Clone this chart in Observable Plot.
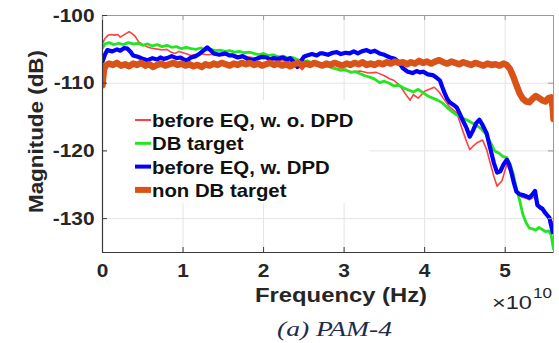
<!DOCTYPE html>
<html><head><meta charset="utf-8">
<script src="https://cdn.jsdelivr.net/npm/d3@7"></script>
<script src="https://cdn.jsdelivr.net/npm/@observablehq/plot@0.6"></script>
<style>body{margin:0;background:#fff} svg{display:block}</style>
</head><body><div id="chart"></div>
<script>
// Frequency in units of 1e10 Hz, magnitude in dB
const xTicks = [0, 1, 2, 3, 4, 5];
const yTicks = [-130, -120, -110, -100];
const xDomain = [0, 5.6];
const yDomain = [-135, -100];
const seriesNames = ["before EQ, w. o. DPD", "DB target", "before EQ, w. DPD", "non DB target"];

const redPts = [[0,-104.1],[0.03,-103.4],[0.07,-102.9],[0.11,-102.8],[0.15,-102.9],[0.19,-102.8],[0.22,-103.2],[0.26,-102.9],[0.3,-102.6],[0.33,-102.4],[0.36,-102.6],[0.4,-103.0],[0.45,-103.9],[0.5,-104.3],[0.55,-104.6],[0.6,-104.8],[0.65,-104.9],[0.7,-105.0],[0.75,-105.1],[0.8,-105.0],[0.85,-105.4],[0.9,-105.6],[0.95,-105.3],[1.0,-105.5],[1.05,-105.7],[1.1,-105.9],[1.2,-105.6],[1.3,-105.8],[1.4,-105.7],[1.5,-105.9],[1.6,-105.8],[1.7,-106.0],[1.8,-106.1],[1.9,-106.3],[2.0,-106.2],[2.1,-106.5],[2.2,-106.6],[2.3,-106.8],[2.38,-107.0],[2.44,-107.6],[2.48,-108.0],[2.52,-107.4],[2.58,-107.1],[2.64,-107.3],[2.7,-107.5],[2.8,-107.6],[2.9,-107.8],[3.0,-108.1],[3.1,-108.3],[3.2,-108.2],[3.3,-108.5],[3.4,-108.4],[3.5,-108.9],[3.56,-109.3],[3.62,-109.6],[3.68,-110.2],[3.73,-111.0],[3.78,-111.9],[3.82,-112.5],[3.86,-111.7],[3.92,-112.2],[3.96,-111.7],[4.0,-111.2],[4.06,-110.9],[4.12,-110.6],[4.18,-111.3],[4.23,-112.2],[4.31,-113.5],[4.4,-114.4],[4.47,-116.9],[4.52,-118.6],[4.56,-119.8],[4.6,-119.3],[4.65,-118.8],[4.72,-118.4],[4.77,-119.8],[4.81,-121.6],[4.86,-123.8],[4.9,-125.2],[4.96,-124.4],[5.02,-122.0],[5.06,-123.0],[5.1,-124.6],[5.14,-126.1],[5.2,-126.8],[5.26,-127.0],[5.3,-127.2],[5.36,-126.8],[5.39,-127.5],[5.43,-128.6],[5.47,-128.8],[5.51,-129.2],[5.55,-129.7],[5.58,-130.4],[5.6,-131.6]];

const greenPts = [[0,-104.8],[0.03,-104.2],[0.08,-104.0],[0.14,-104.3],[0.2,-104.1],[0.26,-104.3],[0.32,-104.0],[0.38,-104.2],[0.44,-104.1],[0.5,-104.4],[0.56,-104.2],[0.62,-104.5],[0.68,-104.3],[0.74,-104.6],[0.8,-104.4],[0.86,-104.7],[0.92,-104.6],[0.98,-104.9],[1.04,-104.7],[1.1,-104.9],[1.16,-105.0],[1.22,-104.8],[1.28,-105.1],[1.34,-105.0],[1.4,-105.2],[1.46,-105.1],[1.52,-105.3],[1.58,-105.2],[1.64,-105.4],[1.7,-105.3],[1.76,-105.5],[1.82,-105.4],[1.88,-105.6],[1.94,-105.8],[2.0,-105.6],[2.06,-105.9],[2.12,-105.8],[2.18,-106.1],[2.24,-106.0],[2.3,-106.3],[2.36,-106.2],[2.42,-106.5],[2.48,-106.8],[2.54,-106.7],[2.6,-107.0],[2.66,-107.1],[2.72,-107.4],[2.78,-107.3],[2.84,-107.7],[2.9,-107.9],[2.96,-108.1],[3.02,-108.0],[3.08,-108.4],[3.14,-108.3],[3.2,-108.6],[3.26,-108.9],[3.32,-109.1],[3.38,-109.4],[3.44,-109.9],[3.5,-109.7],[3.56,-110.0],[3.62,-110.4],[3.68,-110.3],[3.74,-110.7],[3.8,-111.0],[3.86,-111.3],[3.92,-110.9],[3.98,-111.4],[4.04,-111.9],[4.1,-112.2],[4.16,-112.5],[4.22,-112.9],[4.28,-113.6],[4.34,-114.2],[4.4,-114.7],[4.46,-115.1],[4.52,-115.4],[4.58,-115.8],[4.64,-116.2],[4.7,-116.7],[4.76,-117.5],[4.82,-118.8],[4.87,-120.0],[4.92,-120.3],[4.97,-120.8],[5.02,-121.0],[5.06,-121.9],[5.1,-123.4],[5.14,-125.6],[5.18,-127.3],[5.22,-129.4],[5.26,-130.6],[5.3,-131.4],[5.34,-131.5],[5.38,-131.7],[5.42,-131.3],[5.46,-131.6],[5.5,-131.9],[5.54,-131.8],[5.57,-132.4],[5.6,-134.5]];

const bluePts = [[0,-106.8],[0.03,-105.8],[0.06,-105.1],[0.12,-105.3],[0.18,-105.0],[0.22,-105.2],[0.27,-104.8],[0.31,-104.9],[0.35,-105.4],[0.38,-105.9],[0.44,-106.1],[0.5,-106.4],[0.56,-106.6],[0.62,-106.3],[0.68,-106.5],[0.72,-106.2],[0.76,-106.4],[0.8,-106.3],[0.86,-106.0],[0.92,-106.3],[0.97,-106.2],[1.01,-106.5],[1.05,-106.6],[1.1,-106.2],[1.16,-106.0],[1.21,-105.6],[1.26,-105.1],[1.3,-104.7],[1.34,-105.1],[1.38,-105.6],[1.45,-105.8],[1.52,-105.6],[1.58,-105.9],[1.62,-105.9],[1.68,-106.2],[1.74,-106.0],[1.8,-106.4],[1.87,-106.6],[1.93,-106.3],[1.98,-106.1],[2.04,-106.2],[2.08,-106.5],[2.12,-106.3],[2.18,-106.4],[2.24,-106.2],[2.29,-106.5],[2.33,-106.3],[2.38,-106.9],[2.42,-107.6],[2.46,-106.8],[2.5,-106.1],[2.54,-105.9],[2.6,-105.7],[2.66,-105.9],[2.7,-105.6],[2.74,-105.6],[2.8,-105.8],[2.86,-105.5],[2.91,-105.4],[2.96,-105.7],[3.02,-105.5],[3.07,-105.6],[3.12,-105.3],[3.17,-105.6],[3.22,-105.3],[3.28,-105.1],[3.33,-105.4],[3.38,-105.2],[3.44,-105.6],[3.5,-105.8],[3.57,-106.2],[3.63,-106.4],[3.68,-106.9],[3.73,-107.8],[3.79,-108.3],[3.85,-108.5],[3.9,-108.2],[3.94,-108.4],[3.98,-108.3],[4.04,-108.7],[4.1,-108.8],[4.15,-109.2],[4.19,-109.6],[4.22,-110.6],[4.25,-111.5],[4.28,-112.3],[4.31,-112.8],[4.36,-113.2],[4.4,-113.6],[4.44,-114.6],[4.47,-115.4],[4.52,-116.6],[4.56,-117.9],[4.6,-117.0],[4.64,-115.9],[4.68,-115.4],[4.72,-116.2],[4.77,-117.4],[4.81,-119.4],[4.86,-121.8],[4.9,-123.2],[4.94,-123.0],[4.98,-122.0],[5.02,-121.3],[5.05,-122.0],[5.08,-123.3],[5.11,-124.8],[5.14,-126.0],[5.18,-126.4],[5.22,-126.5],[5.26,-126.7],[5.3,-126.9],[5.34,-126.4],[5.37,-125.9],[5.4,-128.0],[5.43,-128.3],[5.46,-128.5],[5.5,-129.2],[5.55,-129.9],[5.59,-132.0]];

const orangePts = [[0,-110.3],[0.01,-109.0],[0.02,-107.9],[0.04,-107.4],[0.08,-107.1],[0.13,-107.3],[0.18,-107.0],[0.23,-107.4],[0.28,-107.2],[0.33,-107.5],[0.38,-107.1],[0.43,-107.3],[0.48,-107.0],[0.53,-107.4],[0.58,-107.2],[0.63,-107.6],[0.68,-107.3],[0.73,-107.1],[0.78,-107.4],[0.83,-107.2],[0.88,-107.0],[0.93,-107.3],[0.98,-107.1],[1.03,-107.4],[1.08,-107.2],[1.13,-107.5],[1.18,-107.3],[1.23,-107.6],[1.28,-107.2],[1.33,-107.4],[1.38,-107.1],[1.43,-107.3],[1.48,-107.0],[1.53,-107.2],[1.58,-107.4],[1.63,-107.1],[1.68,-107.3],[1.73,-107.0],[1.78,-107.2],[1.83,-107.0],[1.88,-107.3],[1.93,-107.1],[1.98,-107.4],[2.03,-107.2],[2.08,-107.0],[2.13,-107.3],[2.18,-107.1],[2.23,-107.4],[2.28,-107.2],[2.33,-107.5],[2.38,-107.2],[2.43,-107.0],[2.48,-107.3],[2.53,-107.1],[2.58,-107.3],[2.63,-107.0],[2.68,-107.2],[2.73,-107.4],[2.78,-107.1],[2.83,-107.3],[2.88,-107.0],[2.93,-107.2],[2.98,-107.4],[3.03,-107.1],[3.08,-107.3],[3.13,-107.0],[3.18,-107.2],[3.23,-106.9],[3.28,-107.3],[3.33,-107.1],[3.38,-107.3],[3.43,-107.0],[3.48,-107.2],[3.53,-106.9],[3.58,-107.1],[3.63,-106.8],[3.68,-107.0],[3.73,-106.9],[3.78,-107.2],[3.83,-106.9],[3.88,-107.1],[3.93,-106.7],[3.98,-107.0],[4.03,-106.8],[4.08,-107.1],[4.13,-106.8],[4.18,-106.6],[4.23,-106.9],[4.28,-107.1],[4.33,-106.8],[4.38,-107.0],[4.43,-107.2],[4.48,-106.9],[4.53,-107.1],[4.58,-107.3],[4.63,-107.0],[4.68,-107.2],[4.73,-107.4],[4.78,-107.1],[4.83,-107.3],[4.88,-107.2],[4.93,-107.4],[4.98,-107.1],[5.02,-107.3],[5.06,-107.9],[5.1,-109.0],[5.14,-110.3],[5.18,-111.5],[5.22,-112.3],[5.26,-112.7],[5.3,-112.8],[5.34,-112.3],[5.38,-111.9],[5.42,-112.2],[5.46,-112.5],[5.5,-112.7],[5.54,-112.2],[5.57,-112.1],[5.59,-113.5],[5.6,-115.3]];

const seriesData = [redPts, greenPts, bluePts, orangePts];

// styles
const seriesColors = ["#ff4040", "#22e622", "#0000ff", "#d95319"];
const seriesWidths = [1.6, 2.8, 4.2, 6.5];
const legendWidths = [2, 3, 4, 6];

const W = 559, H = 343, mL = 102, mR = 6, mT = 15, mB = 91;
const pW = W - mL - mR, pH = H - mT - mB;
const font = "'Liberation Sans', Arial, sans-serif";

const plot = Plot.plot({
  width: W, height: H,
  marginLeft: mL, marginRight: mR, marginTop: mT, marginBottom: mB,
  style: {fontFamily: font, fontSize: "19px", fontWeight: "bold", color: "#262626", background: "#fff"},
  x: {domain: xDomain, label: null},
  y: {domain: yDomain, label: null},
  marks: [
    Plot.gridX(xTicks, {stroke: "#e4e4e4", strokeOpacity: 1}),
    Plot.gridY(yTicks, {stroke: "#e4e4e4", strokeOpacity: 1}),
    ...seriesData.map((pts, i) => Plot.line(pts, {
      x: d => d[0], y: d => d[1], stroke: seriesColors[i], strokeWidth: seriesWidths[i],
      strokeLinejoin: "round", strokeLinecap: "round", clip: true
    })),
    Plot.frame({stroke: "#9a9a9a"}),
    Plot.ruleX([xDomain[0]], {stroke: "#3a3a3a", strokeWidth: 1.2}),
    Plot.ruleY([yDomain[0]], {stroke: "#3a3a3a", strokeWidth: 1.2}),
    Plot.tickX(xTicks, {x: d => d, insetTop: pH - 5, stroke: "#3a3a3a"}),
    Plot.tickX(xTicks, {x: d => d, insetBottom: pH - 5, stroke: "#9a9a9a"}),
    Plot.tickY(yTicks, {y: d => d, insetRight: pW - 5, stroke: "#3a3a3a"}),
    Plot.tickY(yTicks, {y: d => d, insetLeft: pW - 5, stroke: "#9a9a9a"}),
    Plot.axisX({ticks: xTicks, tickSize: 0, tickPadding: 11, label: null, fontSize: 19, tickFormat: d => String(d)}),
    Plot.axisY({ticks: yTicks, tickSize: 0, tickPadding: 8, label: null, fontSize: 19, tickFormat: d => String(d)})
  ]
});

document.getElementById("chart").appendChild(plot);
const svg = d3.select(plot);

// widen tick labels slightly (reference glyphs are horizontally stretched)
svg.selectAll("g[aria-label='y-axis tick label'] text, g[aria-label='x-axis tick label'] text").each(function() {
  const w = this.getComputedTextLength();
  if (w > 0) d3.select(this).attr("textLength", w * 1.1).attr("lengthAdjust", "spacingAndGlyphs");
});

// legend
const lg = svg.append("g").attr("text-anchor", "start");
lg.append("rect").attr("x", 107).attr("y", 100).attr("width", 263).attr("height", 103).attr("fill", "#fff");
seriesNames.forEach((name, i) => {
  const y = 120 + i * 23.3;
  lg.append("line").attr("x1", 135).attr("x2", 151).attr("y1", y).attr("y2", y)
    .attr("stroke", seriesColors[i]).attr("stroke-width", legendWidths[i]);
  const t = lg.append("text").attr("x", 152).attr("y", y + 7).text(name)
    .attr("text-anchor", "start")
    .attr("font-family", font).attr("font-weight", "bold").attr("font-size", 19).attr("fill", "#111");
  const w = t.node().getComputedTextLength();
  if (w > 0) t.attr("textLength", w * 1.07).attr("lengthAdjust", "spacingAndGlyphs");
});

// axis titles
svg.append("text").text("Magnitude (dB)")
  .attr("transform", "translate(43,131.5) rotate(-90)")
  .attr("text-anchor", "middle").attr("font-family", font).attr("font-weight", "bold")
  .attr("font-size", 20).attr("fill", "#262626")
  .attr("textLength", 163).attr("lengthAdjust", "spacingAndGlyphs");
svg.append("text").text("Frequency (Hz)")
  .attr("x", 341).attr("y", 302)
  .attr("text-anchor", "middle").attr("font-family", font).attr("font-weight", "bold")
  .attr("font-size", 20).attr("fill", "#262626")
  .attr("textLength", 172).attr("lengthAdjust", "spacingAndGlyphs");
svg.append("text").text("\u00d710")
  .attr("x", 492).attr("y", 309).attr("text-anchor", "start").attr("font-family", font).attr("font-weight", "normal")
  .attr("font-size", 18).attr("fill", "#262626")
  .attr("textLength", 40).attr("lengthAdjust", "spacingAndGlyphs");
svg.append("text").text("10")
  .attr("x", 533).attr("y", 298).attr("text-anchor", "start").attr("font-family", font).attr("font-weight", "normal")
  .attr("font-size", 14).attr("fill", "#262626")
  .attr("textLength", 19).attr("lengthAdjust", "spacingAndGlyphs");
svg.append("text").text("(a) PAM-4")
  .attr("x", 334.5).attr("y", 336).attr("text-anchor", "middle")
  .attr("font-family", "'Liberation Serif', 'Times New Roman', serif").attr("font-style", "italic")
  .attr("font-weight", "normal").attr("font-size", 22).attr("fill", "#1c2b4f")
  .attr("textLength", 115).attr("lengthAdjust", "spacingAndGlyphs");
</script></body></html>
